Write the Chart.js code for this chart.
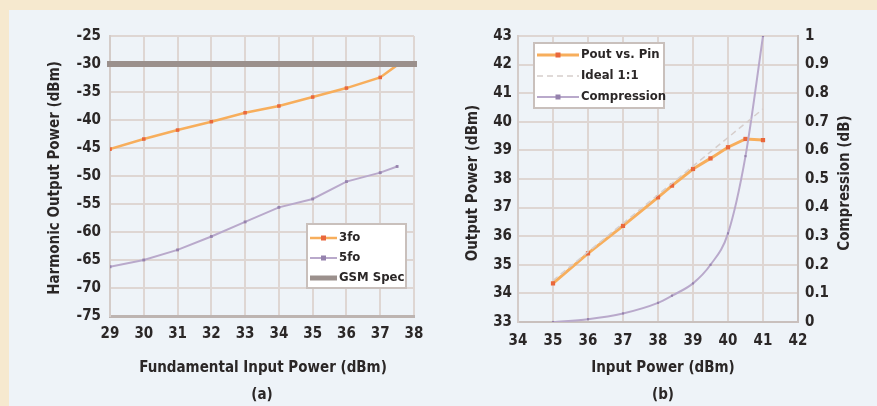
<!DOCTYPE html>
<html>
<head>
<meta charset="utf-8">
<script src="https://cdn.jsdelivr.net/npm/chart.js@4/dist/chart.umd.min.js"></script>
<style>
  html, body { margin: 0; padding: 0; }
  body { width: 877px; height: 406px; background: #f6e9cf; position: relative; overflow: hidden; }
  #panel { position: absolute; left: 9px; top: 10px; width: 868px; height: 396px; background: #eef3f8; }
  canvas { position: absolute; top: 0; }
  #left { left: 0; }
  #right { left: 440px; }
</style>
</head>
<body>
<div id="panel"></div>
<canvas id="left" width="440" height="406"></canvas>
<canvas id="right" width="437" height="406"></canvas>
<script>
// chart (a): harmonic output power vs fundamental input power
const pinA = [29, 30, 31, 32, 33, 34, 35, 36, 37, 37.5];
const h3 = [-45.2, -43.4, -41.8, -40.3, -38.7, -37.5, -35.9, -34.3, -32.4, -30.2];
const h5 = [-66.2, -65.0, -63.2, -60.8, -58.2, -55.6, -54.1, -51.0, -49.4, -48.3];
const gsmX = [29, 38];
const gsmY = [-30, -30];

// chart (b): output power and compression vs input power
const pinB = [35, 36, 37, 38, 38.4, 39, 39.5, 40, 40.5, 41];
const pout = [34.35, 35.4, 36.36, 37.36, 37.77, 38.35, 38.72, 39.11, 39.4, 39.36];
const ideal = [34.45, 35.45, 36.45, 37.45, 37.85, 38.45, 38.95, 39.45, 39.95, 40.45];
const compression = [0, 0.01, 0.03, 0.067, 0.092, 0.135, 0.2, 0.31, 0.58, 1.0];

const FONT = '"DejaVu Sans Condensed", "Liberation Sans Narrow", "Arial Narrow", sans-serif';
const TXT = "#2b2727";
const GRID = "#ded6d3";
const ORANGE = "#f7ae5c";
const ORANGE_PT = "#e9673c";
const PURPLE = "#b9a9cb";
const PURPLE_PT = "#9582ad";
const GSM = "#9b908c";

const pts = (xs, ys) => xs.map((x, i) => ({ x: x, y: ys[i] }));

// draws axis titles and a boxed legend at fixed spots
function annotate(opts) {
    return {
        id: "annotate",
        afterDraw(chart) {
            const ctx = chart.ctx;
            ctx.save();
            ctx.fillStyle = TXT;
            ctx.font = "bold 15px " + FONT;
            ctx.textAlign = "center";
            ctx.textBaseline = "middle";
            opts.titles.forEach(t => {
                ctx.save();
                ctx.translate(t.x, t.y);
                if (t.rot) ctx.rotate(t.rot);
                ctx.fillText(t.text, 0, 0);
                ctx.restore();
            });
            const L = opts.legend;
            ctx.fillStyle = "#ffffff";
            ctx.fillRect(L.x, L.y, L.w, L.h);
            ctx.strokeStyle = "#c9c0bc";
            ctx.lineWidth = 2;
            ctx.strokeRect(L.x, L.y, L.w, L.h);
            L.items.forEach((it, i) => {
                const y = L.y + L.first + i * L.step;
                ctx.strokeStyle = it.color;
                ctx.lineWidth = it.width;
                ctx.setLineDash(it.dash || []);
                ctx.beginPath();
                ctx.moveTo(L.x + 3, y);
                ctx.lineTo(L.x + 3 + L.sample, y);
                ctx.stroke();
                ctx.setLineDash([]);
                if (it.point) {
                    ctx.fillStyle = it.point;
                    ctx.fillRect(L.x + 3 + L.sample / 2 - 2.5, y - 2.5, 5, 5);
                }
                ctx.fillStyle = TXT;
                ctx.font = "bold 13px " + FONT;
                ctx.textAlign = "left";
                ctx.fillText(it.label, L.x + 5 + L.sample, y);
            });
            ctx.restore();
        }
    };
}

const tickFont = { family: FONT, size: 15, weight: "bold" };

new Chart(document.getElementById("left"), {
    type: "line",
    data: {
        datasets: [
            { label: "GSM Spec", data: pts(gsmX, gsmY), borderColor: GSM, borderWidth: 6,
              pointRadius: 0, borderCapStyle: "square", clip: false },
            { label: "3fo", data: pts(pinA, h3), borderColor: ORANGE, borderWidth: 2.5,
              pointStyle: "rect", pointRadius: 2.5, pointBackgroundColor: ORANGE_PT, pointBorderWidth: 0 },
            { label: "5fo", data: pts(pinA, h5), borderColor: PURPLE, borderWidth: 2,
              pointStyle: "rect", pointRadius: 2, pointBackgroundColor: PURPLE_PT, pointBorderWidth: 0 }
        ]
    },
    options: {
        responsive: false,
        animation: false,
        layout: { padding: { left: 0, right: 26, top: 36, bottom: 0 }, autoPadding: false },
        plugins: { legend: { display: false }, tooltip: { enabled: false } },
        scales: {
            x: {
                type: "linear", min: 29, max: 38,
                ticks: { stepSize: 1, color: TXT, font: tickFont, padding: 9, maxRotation: 0 },
                grid: { color: GRID, lineWidth: 2, tickLength: 0 },
                border: { color: "#bdb4b1", width: 3 },
                afterFit: s => { s.height = 90; }
            },
            y: {
                min: -75, max: -25,
                ticks: { stepSize: 5, color: TXT, font: tickFont, padding: 9 },
                grid: { color: GRID, lineWidth: 2, tickLength: 0 },
                border: { color: "#d4ccc9", width: 2 },
                afterFit: s => { s.width = 110; }
            }
        }
    },
    plugins: [annotate({
        titles: [
            { text: "Harmonic Output Power (dBm)", x: 55, y: 178, rot: -Math.PI / 2 },
            { text: "Fundamental Input Power (dBm)", x: 263, y: 368 },
            { text: "(a)", x: 262, y: 395 }
        ],
        legend: {
            x: 307, y: 224, w: 99, h: 64, first: 14, step: 20, sample: 27,
            items: [
                { label: "3fo", color: ORANGE, width: 2.5, point: ORANGE_PT },
                { label: "5fo", color: PURPLE, width: 2, point: PURPLE_PT },
                { label: "GSM Spec", color: GSM, width: 5 }
            ]
        }
    })]
});

new Chart(document.getElementById("right"), {
    type: "line",
    data: {
        datasets: [
            { label: "Ideal 1:1", data: pts(pinB, ideal), borderColor: "#d6cecc", borderWidth: 1.5,
              borderDash: [6, 4], pointRadius: 0, yAxisID: "y" },
            { label: "Compression", data: pts(pinB, compression), borderColor: PURPLE, borderWidth: 2,
              cubicInterpolationMode: "monotone", pointStyle: "rect", pointRadius: 1.5,
              pointBackgroundColor: PURPLE_PT, pointBorderWidth: 0, yAxisID: "y1" },
            { label: "Pout vs. Pin", data: pts(pinB, pout), borderColor: ORANGE, borderWidth: 3,
              pointStyle: "rect", pointRadius: 3, pointBackgroundColor: ORANGE_PT, pointBorderWidth: 0,
              yAxisID: "y" }
        ]
    },
    options: {
        responsive: false,
        animation: false,
        layout: { padding: { left: 0, right: 0, top: 36, bottom: 0 }, autoPadding: false },
        plugins: { legend: { display: false }, tooltip: { enabled: false } },
        scales: {
            x: {
                type: "linear", min: 34, max: 42,
                ticks: { stepSize: 1, color: TXT, font: tickFont, padding: 10, maxRotation: 0 },
                grid: { color: GRID, lineWidth: 2, tickLength: 0 },
                border: { color: "#c9c0bd", width: 2 },
                afterFit: s => { s.height = 84; }
            },
            y: {
                position: "left", min: 33, max: 43,
                ticks: { stepSize: 1, color: TXT, font: tickFont, padding: 6 },
                grid: { color: GRID, lineWidth: 2, tickLength: 0 },
                border: { color: "#d4ccc9", width: 2 },
                afterFit: s => { s.width = 78; }
            },
            y1: {
                position: "right", min: 0, max: 1,
                ticks: { stepSize: 0.1, color: TXT, font: tickFont, padding: 7,
                         callback: v => String(Math.round(v * 10) / 10) },
                grid: { display: false, tickLength: 0 },
                border: { color: "#c9c0bd", width: 2 },
                afterFit: s => { s.width = 79; }
            }
        }
    },
    plugins: [annotate({
        titles: [
            { text: "Output Power (dBm)", x: 33, y: 183, rot: -Math.PI / 2 },
            { text: "Compression (dB)", x: 405, y: 183, rot: -Math.PI / 2 },
            { text: "Input Power (dBm)", x: 223, y: 368 },
            { text: "(b)", x: 223, y: 395 }
        ],
        legend: {
            x: 94, y: 43, w: 130, h: 65, first: 12, step: 21, sample: 42,
            items: [
                { label: "Pout vs. Pin", color: ORANGE, width: 3, point: ORANGE_PT },
                { label: "Ideal 1:1", color: "#d6cecc", width: 1.5, dash: [6, 4] },
                { label: "Compression", color: PURPLE, width: 2, point: PURPLE_PT }
            ]
        }
    })]
});
</script>
</body>
</html>
